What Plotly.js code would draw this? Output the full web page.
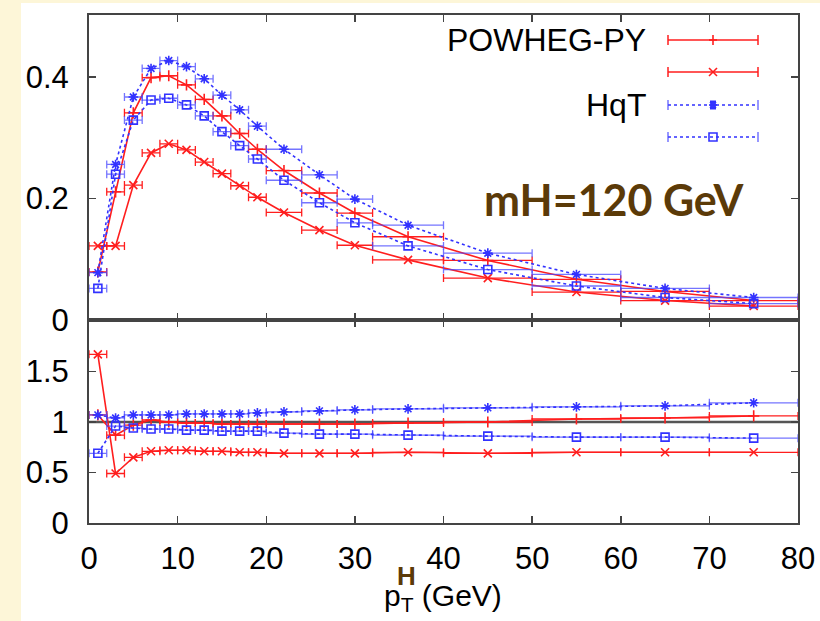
<!DOCTYPE html>
<html>
<head>
<meta charset="utf-8">
<script src="https://cdn.plot.ly/plotly-3.0.1.min.js"></script>
<style>html,body{margin:0;padding:0;background:#fff;}#chart{width:820px;height:621px;}</style>
</head>
<body>
<div id="chart"></div>
<script>
// ---- data ----
const binCenters    = [1, 3, 5, 7, 9, 11, 13, 15, 17, 19, 22, 26, 30, 36, 45, 55, 65, 75];
const binHalfWidths = [1, 1, 1, 1, 1, 1, 1, 1, 1, 1, 2, 2, 2, 4, 5, 5, 5, 5];

const powheg1 = [0.079, 0.211, 0.341, 0.399, 0.402, 0.387, 0.363, 0.336, 0.307, 0.281, 0.246, 0.209, 0.176, 0.137, 0.098, 0.067, 0.047, 0.032];
const powheg2 = [0.122, 0.122, 0.222, 0.275, 0.290, 0.280, 0.260, 0.241, 0.221, 0.202, 0.177, 0.148, 0.123, 0.099, 0.069, 0.046, 0.032, 0.023];
const hqt1    = [0.078, 0.256, 0.367, 0.414, 0.427, 0.417, 0.397, 0.370, 0.346, 0.319, 0.281, 0.239, 0.199, 0.156, 0.110, 0.075, 0.052, 0.037];
const hqt2    = [0.052, 0.240, 0.329, 0.362, 0.365, 0.354, 0.336, 0.310, 0.287, 0.265, 0.230, 0.193, 0.160, 0.122, 0.083, 0.056, 0.037, 0.027];

const ratioPowheg1 = [1.07, 0.87, 0.97, 1.02, 1.00, 0.99, 0.99, 0.98, 0.98, 0.98, 0.98, 0.98, 0.98, 0.99, 1.00, 1.03, 1.04, 1.06];
const ratioPowheg2 = [1.67, 0.49, 0.65, 0.71, 0.72, 0.72, 0.71, 0.71, 0.70, 0.70, 0.69, 0.69, 0.69, 0.70, 0.69, 0.70, 0.70, 0.70];
const ratioHqt1    = [1.07, 1.04, 1.07, 1.07, 1.07, 1.08, 1.08, 1.08, 1.08, 1.09, 1.10, 1.11, 1.12, 1.13, 1.14, 1.15, 1.16, 1.19];
const ratioHqt2    = [0.69, 0.96, 0.94, 0.93, 0.93, 0.92, 0.92, 0.91, 0.91, 0.91, 0.89, 0.88, 0.88, 0.87, 0.86, 0.85, 0.85, 0.84];

const xTickVals = [0, 10, 20, 30, 40, 50, 60, 70, 80];
const topTickVals = [0, 0.2, 0.4];
const topTickText = ['0', '0.2', '0.4'];
const ratioTickVals = [0, 0.5, 1, 1.5];
const ratioTickText = ['0', '0.5', '1', '1.5'];
const ratioReference = 1;
const legendLabels = ['POWHEG-PY', '', 'HqT', ''];
const annotationText = 'mH=120 GeV';

// ---- styles ----
const RED = 'rgb(255,30,30)';
const BLUE = 'rgb(50,50,255)';
const BLUE_LIGHT = 'rgba(70,70,255,0.75)';
const FRAME = '#444';
const BROWN = '#5b3a08';

const seriesStyles = [
  {color: RED, dash: 'solid', symbol: 'cross-thin-open', ecolor: RED},
  {color: RED, dash: 'solid', symbol: 'x-thin-open', ecolor: RED},
  {color: BLUE, dash: 'dot', symbol: 'asterisk-open', ecolor: BLUE_LIGHT},
  {color: BLUE, dash: 'dot', symbol: 'square-open', ecolor: BLUE_LIGHT}
];

function mkTrace(y, st, xa, ya) {
  return {
    type: 'scatter', mode: 'lines+markers',
    x: binCenters, y: y, xaxis: xa, yaxis: ya, showlegend: false,
    line: {color: st.color, width: 1.6, dash: st.dash},
    marker: {symbol: st.symbol, size: 8, color: st.color, line: {color: st.color, width: 1.6}},
    error_x: {type: 'data', array: binHalfWidths, visible: true, color: st.ecolor, thickness: 1.3, width: 4}
  };
}

const topSeries = [powheg1, powheg2, hqt1, hqt2];
const ratioSeries = [ratioPowheg1, ratioPowheg2, ratioHqt1, ratioHqt2];
const data = [];
topSeries.forEach((s, i) => data.push(mkTrace(s, seriesStyles[i], 'x', 'y')));
ratioSeries.forEach((s, i) => data.push(mkTrace(s, seriesStyles[i], 'x2', 'y2')));

// ---- geometry (pixels) ----
const W = 820, H = 621;
const ML = 89, MR = 22, MT = 15, MB = 98;
const plotW = W - ML - MR, plotH = H - MT - MB;
const splitPx = 320;
const split = (H - MB - splitPx) / plotH;
const px2x = p => (p - ML) / plotW;
const px2y = p => (H - MB - p) / plotH;

const tickFont = {family: 'Liberation Sans, Arial, sans-serif', size: 31, color: '#000'};
const axisCommon = {
  showline: true, linecolor: FRAME, linewidth: 2, mirror: 'ticks',
  ticks: 'inside', ticklen: 7, tickwidth: 1.5, tickcolor: FRAME,
  showgrid: false, zeroline: false, tickfont: tickFont
};

const shapes = [];
// yellow slide border strips
const YEL = '#fdf6d8';
shapes.push({type: 'rect', xref: 'paper', yref: 'paper', x0: px2x(0), x1: px2x(21), y0: px2y(H), y1: px2y(0), fillcolor: YEL, line: {width: 0}, layer: 'below'});
shapes.push({type: 'rect', xref: 'paper', yref: 'paper', x0: px2x(0), x1: px2x(W), y0: px2y(3), y1: px2y(0), fillcolor: YEL, line: {width: 0}, layer: 'below'});
// reference line in ratio panel
shapes.push({type: 'line', xref: 'x2 domain', yref: 'y2', x0: 0, x1: 1, y0: ratioReference, y1: ratioReference, line: {color: '#555', width: 2.5}, layer: 'below'});

// legend keys
const legRowsPx = [40, 72, 105, 137];
const legX0 = px2x(668), legX1 = px2x(758), legXC = px2x(713);
const annotations = [];
legRowsPx.forEach((rp, i) => {
  const st = seriesStyles[i];
  const yy = px2y(rp);
  shapes.push({type: 'line', xref: 'paper', yref: 'paper', x0: legX0, x1: legX1, y0: yy, y1: yy,
    line: {color: st.color, width: 1.6, dash: st.dash}});
  [legX0, legX1].forEach(xc => shapes.push({type: 'line', xref: 'paper', yref: 'paper',
    xsizemode: 'pixel', xanchor: xc, x0: 0, x1: 0, ysizemode: 'pixel', yanchor: yy, y0: -5, y1: 5,
    line: {color: st.ecolor, width: 1.5}}));
  const mk = (x0, y0, x1, y1, w) => shapes.push({type: 'line', xref: 'paper', yref: 'paper',
    xsizemode: 'pixel', xanchor: legXC, x0: x0, x1: x1, ysizemode: 'pixel', yanchor: yy, y0: y0, y1: y1,
    line: {color: st.color, width: w || 1.6}});
  if (i === 0) { mk(-4, 0, 4, 0); mk(0, -5, 0, 5); }
  if (i === 1) { mk(-4, -4, 4, 4); mk(-4, 4, 4, -4); }
  if (i === 2) { mk(-4, 0, 4, 0); mk(0, -4, 0, 4); mk(-3, -3, 3, 3); mk(-3, 3, 3, -3); mk(-3,-3,3,-3,3); mk(-3,0,3,0,3); mk(-3,3,3,3,3); }
  if (i === 3) { shapes.push({type: 'rect', xref: 'paper', yref: 'paper', xsizemode: 'pixel', xanchor: legXC,
    x0: -4, x1: 4, ysizemode: 'pixel', yanchor: yy, y0: -4, y1: 4, line: {color: st.color, width: 1.6}}); }
  if (legendLabels[i]) {
    annotations.push({xref: 'paper', yref: 'paper', x: px2x(648), y: yy, xanchor: 'right', yanchor: 'middle',
      text: legendLabels[i], showarrow: false, font: {family: 'Liberation Sans, Arial, sans-serif', size: 32, color: '#000'}});
  }
});

annotations.push({xref: 'paper', yref: 'paper', x: px2x(614), y: px2y(199), xanchor: 'center', yanchor: 'middle',
  text: '<b>' + annotationText + '</b>', showarrow: false,
  font: {family: 'Lato, Open Sans, sans-serif', size: 43, color: BROWN}});

// x-axis title
annotations.push({xref: 'paper', yref: 'paper', x: px2x(443), y: px2y(597), xanchor: 'center', yanchor: 'middle',
  text: 'p<sub>T</sub> (GeV)', showarrow: false, font: {family: 'Liberation Sans, Arial, sans-serif', size: 30, color: '#000'}});
annotations.push({xref: 'paper', yref: 'paper', x: px2x(406), y: px2y(576), xanchor: 'center', yanchor: 'middle',
  text: '<b>H</b>', showarrow: false, font: {family: 'Liberation Sans, Arial, sans-serif', size: 26, color: BROWN}});

const layout = {
  width: W, height: H,
  margin: {l: ML, r: MR, t: MT, b: MB, pad: 0},
  paper_bgcolor: '#fff', plot_bgcolor: '#fff',
  showlegend: false,
  xaxis: Object.assign({}, axisCommon, {domain: [0, 1], anchor: 'y', range: [0, 80], tickvals: xTickVals, showticklabels: false}),
  yaxis: Object.assign({}, axisCommon, {domain: [split, 1], anchor: 'x', range: [0, 0.502], tickvals: topTickVals, ticktext: topTickText, ticklabelstandoff: 12}),
  xaxis2: Object.assign({}, axisCommon, {domain: [0, 1], anchor: 'y2', range: [0, 80], tickvals: xTickVals, ticklabelstandoff: 7}),
  yaxis2: Object.assign({}, axisCommon, {domain: [0, split], anchor: 'x2', range: [0, 2.01], tickvals: ratioTickVals, ticktext: ratioTickText, ticklabelstandoff: 12}),
  shapes: shapes,
  annotations: annotations
};

Plotly.newPlot('chart', data, layout, {displayModeBar: false, staticPlot: true});
</script>
</body>
</html>
